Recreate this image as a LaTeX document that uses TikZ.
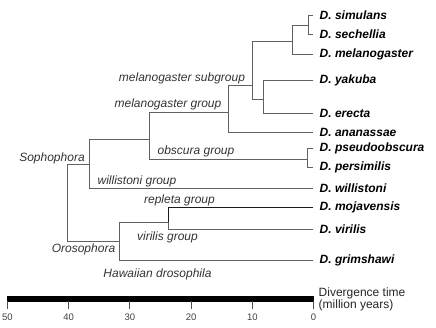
\documentclass[tikz,border=0pt]{standalone}
\usepackage{fontspec}
\setmainfont{Liberation Sans}
\usepackage{tikz}
\usetikzlibrary{positioning}
\tikzset{
  branch/.style={draw=black!62, line width=0.9pt},
  darkbranch/.style={draw=black!90, line width=0.9pt},
  taxon/.style={anchor=west, inner xsep=6.5pt, inner ysep=1pt,
                font=\fontsize{12}{14}\selectfont\bfseries\itshape},
  clade/.style={inner sep=0pt, text=black!80, font=\fontsize{12}{14}\selectfont\itshape},
  scaletick/.style={draw=black!70, line width=0.9pt},
  ticklabel/.style={inner sep=0pt, text=black!75, font=\fontsize{9.5}{11}\selectfont},
}

\begin{document}
\begin{tikzpicture}[x=1pt, y=-1pt]
\useasboundingbox (0,0) rectangle (436,327);
% species at the tips
\node[taxon] (sim) at (313,15)  {D. simulans};
\node[taxon] (sec) at (313,34)  {D. sechellia};
\node[taxon] (mel) at (313,54)  {D. melanogaster};
\node[taxon] (yak) at (313,80)  {D. yakuba};
\node[taxon] (ere) at (313,113) {D. erecta};
\node[taxon] (ana) at (313,132) {D. ananassae};
\node[taxon] (pse) at (313,148) {D. pseudoobscura};
\node[taxon] (per) at (313,167) {D. persimilis};
\node[taxon] (wil) at (313,188) {D. willistoni};
\node[taxon] (moj) at (313,207) {D. mojavensis};
\node[taxon] (vir) at (313,229) {D. virilis};
\node[taxon] (gri) at (313,260) {D. grimshawi};
% splits
\coordinate (simsec) at (308,25);
\coordinate (melsub) at (292,41);
\coordinate (yakere) at (263,99);
\coordinate (melcore) at (252,85);
\coordinate (melgrp) at (228,112);
\coordinate (obsgrp) at (307,159);
\coordinate (melobs) at (149,139);
\coordinate (soph) at (89,164);
\coordinate (repvir) at (168,222);
\coordinate (oros) at (119,241);
\coordinate (root) at (67,200);
% branches
\draw[branch] (simsec) |- (sim);
\draw[branch] (simsec) |- (sec);
\draw[branch] (melsub) |- (simsec);
\draw[branch] (melsub) |- (mel);
\draw[branch] (yakere) |- (yak);
\draw[branch] (yakere) |- (ere);
\draw[branch] (melcore) |- (melsub);
\draw[branch] (melcore) |- (yakere);
\draw[branch] (melgrp) |- (melcore);
\draw[branch] (melgrp) |- (ana);
\draw[branch] (obsgrp) |- (pse);
\draw[branch] (obsgrp) |- (per);
\draw[branch] (melobs) |- (melgrp);
\draw[branch] (melobs) |- (obsgrp);
\draw[branch] (soph) |- (melobs);
\draw[branch] (soph) |- (wil);
\draw[darkbranch] (repvir) |- (moj);
\draw[branch] (repvir) |- (vir);
\draw[branch] (oros) |- (repvir);
\draw[branch] (oros) |- (gri);
\draw[branch] (root) |- (soph);
\draw[branch] (root) |- (oros);
% group names
\node[clade] (lmelsub) at (182,78)  {melanogaster subgroup};
\node[clade] (lmelgrp) at (168,104) {melanogaster group};
\node[clade] (lobs)    at (196,151) {obscura group};
\node[clade] (lsoph)   at (52,158)  {Sophophora};
\node[clade] (lwil)    at (137,181) {willistoni group};
\node[clade] (lrep)    at (179.5,200) {repleta group};
\node[clade] (lvir)    at (167.5,237) {virilis group};
\node[clade] (loros)   at (83.5,249) {Orosophora};
\node[clade] (lhaw)    at (157.5,274) {Hawaiian drosophila};
% time scale
\fill[black] (7,296) rectangle (314,301.5);
\foreach \t in {0,10,...,50}
  \draw[scaletick] ({313.5-6.12*\t},301) -- ++(0,8)
    node[ticklabel, below=4pt] (t\t) {\t};
\node[inner sep=0pt, anchor=base west, align=left, text=black!85,
      font=\fontsize{12}{12}\selectfont] (axis) at (318.5,308.5)
      {Divergence time\\(million years)};
\end{tikzpicture}
\end{document}
